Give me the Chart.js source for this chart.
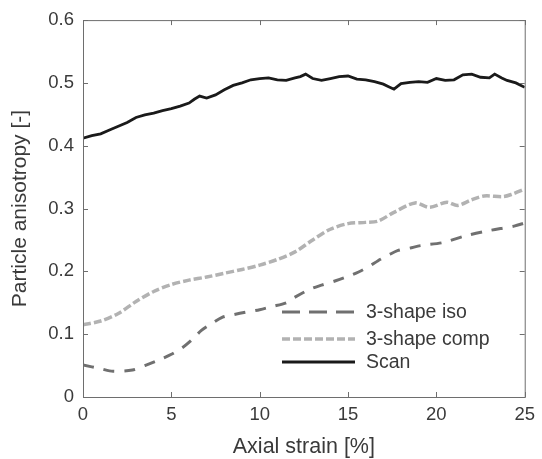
<!DOCTYPE html>
<html>
<head>
<meta charset="utf-8">
<script src="https://cdn.jsdelivr.net/npm/chart.js@4"></script>
<style>
  html, body { margin: 0; padding: 0; background: #ffffff; }
  #wrap { width: 542px; height: 459px; }
</style>
</head>
<body>
<div id="wrap"><canvas id="ChartCanvas"></canvas></div>
<script>
// Values
const scanX = [0, 0.5, 1, 1.5, 2, 2.5, 3, 3.5, 4, 4.5, 5, 5.5, 6, 6.3, 6.6, 7, 7.5, 8, 8.5, 9, 9.5, 10, 10.5, 11, 11.5, 12, 12.3, 12.6, 13, 13.5, 14, 14.5, 15, 15.5, 16, 16.5, 17, 17.3, 17.6, 18, 18.5, 19, 19.5, 20, 20.5, 21, 21.5, 22, 22.5, 23, 23.3, 23.7, 24, 24.5, 25];
const scanY = [0.412, 0.416, 0.419, 0.425, 0.431, 0.437, 0.445, 0.449, 0.452, 0.456, 0.459, 0.463, 0.468, 0.474, 0.479, 0.476, 0.481, 0.489, 0.496, 0.500, 0.505, 0.507, 0.508, 0.505, 0.504, 0.508, 0.510, 0.514, 0.507, 0.504, 0.507, 0.510, 0.511, 0.506, 0.505, 0.502, 0.498, 0.494, 0.490, 0.499, 0.501, 0.502, 0.501, 0.507, 0.504, 0.505, 0.513, 0.514, 0.509, 0.508, 0.514, 0.508, 0.504, 0.500, 0.493];

const compX = [0, 1, 2, 3, 4, 5, 6, 7, 8, 9, 10, 11, 12, 13, 14, 15, 16, 16.7, 17.6, 18.8, 19.6, 20.6, 21.2, 22, 22.7, 23.8, 24.3, 25];
const compY = [0.115, 0.121, 0.133, 0.152, 0.168, 0.179, 0.186, 0.191, 0.197, 0.203, 0.210, 0.219, 0.231, 0.250, 0.267, 0.276, 0.278, 0.280, 0.294, 0.309, 0.302, 0.310, 0.305, 0.314, 0.320, 0.319, 0.323, 0.331];

const isoX = [0, 1, 1.7, 2.8, 3.5, 4.3, 5, 5.6, 6.2, 6.7, 7.3, 7.9, 8.5, 9.2, 10, 10.7, 11.5, 12, 12.8, 13.5, 14.3, 15, 15.6, 16.2, 16.7, 17.3, 17.8, 18.5, 19.1, 20.4, 21.7, 23, 24.4, 25];
const isoY = [0.051, 0.045, 0.041, 0.043, 0.050, 0.059, 0.068, 0.078, 0.092, 0.106, 0.117, 0.127, 0.131, 0.135, 0.139, 0.144, 0.150, 0.159, 0.171, 0.178, 0.185, 0.192, 0.199, 0.208, 0.217, 0.226, 0.233, 0.237, 0.241, 0.246, 0.257, 0.265, 0.272, 0.277];

const xTicks = [0, 5, 10, 15, 20, 25];
const yTicks = [0, 0.1, 0.2, 0.3, 0.4, 0.5, 0.6];
const seriesNames = ['3-shape iso', '3-shape comp', 'Scan'];

const FONT = '"Liberation Sans", Arial, sans-serif';
const TEXT = '#3a3a3a';
const FRAME = '#6e6e6e';

function ToPoints(xs, ys)
{
    return xs.map((x, i) => ({ x: x, y: ys[i] }));
}

// Box around the plot with inward tick marks on all four sides
const framePlugin =
{
    id: 'frame',
    afterDatasetsDraw(chart)
    {
        const ctx = chart.ctx;
        const a = chart.chartArea;
        const sx = chart.scales.x;
        const sy = chart.scales.y;
        ctx.save();
        ctx.strokeStyle = FRAME;
        ctx.lineWidth = 1;
        ctx.strokeRect(a.left + 0.5, a.top + 0.5, a.right - a.left, a.bottom - a.top);
        ctx.beginPath();
        xTicks.forEach(v =>
        {
            const px = Math.round(sx.getPixelForValue(v)) + 0.5;
            ctx.moveTo(px, a.bottom); ctx.lineTo(px, a.bottom - 5);
            ctx.moveTo(px, a.top); ctx.lineTo(px, a.top + 5);
        });
        yTicks.forEach(v =>
        {
            const py = Math.round(sy.getPixelForValue(v)) + 0.5;
            ctx.moveTo(a.left, py); ctx.lineTo(a.left + 5, py);
            ctx.moveTo(a.right, py); ctx.lineTo(a.right - 5, py);
        });
        ctx.stroke();
        ctx.restore();
    }
};

// Legend inside the plot, lower right
const legendPlugin =
{
    id: 'innerLegend',
    afterDraw(chart)
    {
        const ctx = chart.ctx;
        const rows = [312, 339, 362];
        ctx.save();
        ctx.font = '19.5px ' + FONT;
        ctx.textBaseline = 'middle';
        ctx.textAlign = 'left';
        chart.data.datasets.forEach((ds, i) =>
        {
            ctx.strokeStyle = ds.borderColor;
            ctx.lineWidth = ds.borderWidth;
            ctx.setLineDash(ds.legendDash || ds.borderDash || []);
            ctx.beginPath();
            ctx.moveTo(282, rows[i]);
            ctx.lineTo(355, rows[i]);
            ctx.stroke();
            ctx.setLineDash([]);
            ctx.fillStyle = TEXT;
            ctx.fillText(ds.label, 366, rows[i] + 1);
        });
        ctx.restore();
    }
};

new Chart(document.getElementById('ChartCanvas').getContext('2d'),
{
    type: 'line',
    data:
    {
        datasets:
        [
            {
                label: seriesNames[0],
                data: ToPoints(isoX, isoY),
                borderColor: '#707070',
                borderWidth: 3,
                borderDash: [11, 10],
                legendDash: [18, 9],
                tension: 0.3
            },
            {
                label: seriesNames[1],
                data: ToPoints(compX, compY),
                borderColor: '#b2b2b2',
                borderWidth: 3.5,
                borderDash: [8, 3],
                tension: 0.3
            },
            {
                label: seriesNames[2],
                data: ToPoints(scanX, scanY),
                borderColor: '#1a1a1a',
                borderWidth: 2.8,
                tension: 0
            }
        ]
    },
    options:
    {
        responsive: true,
        maintainAspectRatio: false,
        animation: false,
        layout: { padding: { left: 0, right: 14, top: 19, bottom: 0 } },
        elements: { point: { radius: 0 } },
        plugins:
        {
            legend: { display: false },
            tooltip: { enabled: false }
        },
        scales:
        {
            x:
            {
                type: 'linear',
                min: 0,
                max: 25,
                afterFit(scale) { scale.height = 62; },
                afterBuildTicks(scale) { scale.ticks = xTicks.map(v => ({ value: v })); },
                grid: { display: false, drawTicks: false },
                border: { display: false },
                ticks: { padding: 7, color: TEXT, font: { family: FONT, size: 18.5 } },
                title:
                {
                    display: true,
                    text: 'Axial strain [%]',
                    color: TEXT,
                    font: { family: FONT, size: 21.5, lineHeight: 1 },
                    padding: { top: 0, bottom: 1 }
                }
            },
            y:
            {
                type: 'linear',
                min: 0,
                max: 0.6,
                afterFit(scale) { scale.width = 83; },
                afterBuildTicks(scale) { scale.ticks = yTicks.map(v => ({ value: v })); },
                grid: { display: false, drawTicks: false },
                border: { display: false },
                ticks:
                {
                    padding: 9,
                    color: TEXT,
                    font: { family: FONT, size: 18.5 },
                    callback: v => (v === 0 ? '0' : v.toFixed(1))
                },
                title:
                {
                    display: true,
                    text: 'Particle anisotropy [-]',
                    color: TEXT,
                    font: { family: FONT, size: 21, lineHeight: 1 },
                    padding: { top: 10, bottom: 0 }
                }
            }
        }
    },
    plugins: [framePlugin, legendPlugin]
});
</script>
</body>
</html>
